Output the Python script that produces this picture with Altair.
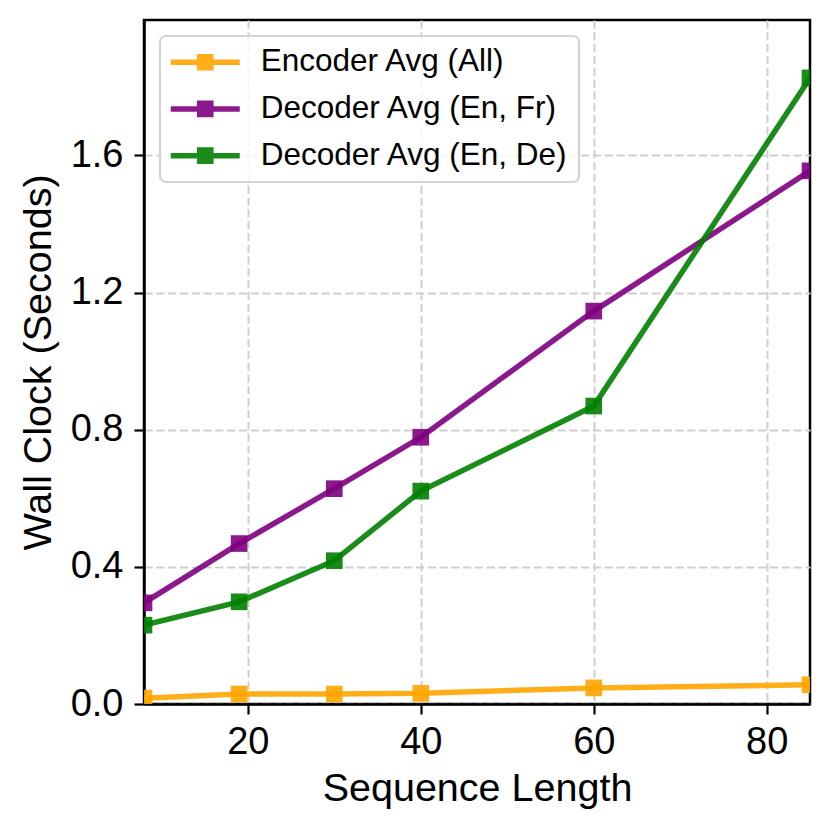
import altair as alt
import pandas as pd

# ---- data ----
seq_len = [8, 19, 30, 40, 60, 85]
encoder_avg = [0.017, 0.029, 0.029, 0.031, 0.047, 0.056]
decoder_en_fr = [0.295, 0.468, 0.628, 0.778, 1.146, 1.555]
decoder_en_de = [0.230, 0.298, 0.418, 0.621, 0.869, 1.826]

series_names = ["Encoder Avg (All)", "Decoder Avg (En, Fr)", "Decoder Avg (En, De)"]
series_colors = ["#FFA500", "#800080", "#008000"]
x_ticks = [20, 40, 60, 80]
y_ticks = [0.0, 0.4, 0.8, 1.2, 1.6]

rows = []
for name, clr, vals in zip(series_names, series_colors,
                           [encoder_avg, decoder_en_fr, decoder_en_de]):
    for x, v in zip(seq_len, vals):
        rows.append({"seq": x, "value": v, "series": name, "clr": clr})
df = pd.DataFrame(rows)

FONT = "Liberation Sans"

# legend symbol: a horizontal line with a square marker (unit = sqrt(size)/2 px)
sym_path = ("M-2.3,-0.183 L-0.556,-0.183 L-0.556,-0.556 L0.556,-0.556 L0.556,-0.183 "
            "L2.3,-0.183 L2.3,0.183 L0.556,0.183 L0.556,0.556 L-0.556,0.556 "
            "L-0.556,0.183 L-2.3,0.183 Z")

x_enc = alt.X(
    "seq:Q",
    scale=alt.Scale(domain=[8, 85], nice=False, zero=False),
    axis=alt.Axis(values=x_ticks, title="Sequence Length", titleY=96,
                  titleBaseline="alphabetic", labelPadding=9),
)
y_enc = alt.Y(
    "value:Q",
    scale=alt.Scale(domain=[0, 1.995], nice=False),
    axis=alt.Axis(values=y_ticks, format=".1f", title="Wall Clock (Seconds)",
                  titleX=-94, titleBaseline="alphabetic", labelPadding=11),
)

base = alt.Chart(df).encode(x=x_enc, y=y_enc)

lines = base.mark_line(strokeWidth=5.5, opacity=0.9, clip=True).encode(
    color=alt.Color("clr:N", scale=None),
    detail="series:N",
)

points = base.mark_point(shape="square", filled=True, size=278, opacity=0.9,
                         strokeWidth=0, clip=True).encode(
    fill=alt.Fill(
        "series:N",
        scale=alt.Scale(domain=series_names, range=series_colors),
        sort=series_names,
        legend=alt.Legend(
            title=None, orient="top-left", offset=16,
            symbolType=sym_path, symbolSize=900, symbolStrokeWidth=0,
            symbolOpacity=0.9, symbolOffset=19,
            labelOffset=39.7, labelFont=FONT, labelFontSize=31.5,
            labelColor="black", labelLimit=600, rowPadding=13.7, padding=10.5,
            strokeColor="#d4d4d4", cornerRadius=6,
            fillColor="rgba(255,255,255,0.8)",
        ),
    )
)

chart = (
    alt.layer(lines, points)
    .properties(
        width=666, height=684,
        autosize=alt.AutoSizeParams(type="none"),
        padding={"left": 136, "top": 12, "right": 13, "bottom": 119},
    )
    .configure(font=FONT)
    .configure_view(stroke="black", strokeWidth=2.5)
    .configure_legend(strokeWidth=2.2)
    .configure_axis(
        labelFont=FONT, labelFontSize=38, labelColor="black",
        titleFont=FONT, titleFontSize=39.5, titleFontWeight="normal", titleColor="black",
        domainColor="black", domainWidth=2.5,
        tickColor="black", tickWidth=2.2, tickSize=10,
        grid=True, gridColor="#cfcfcf", gridWidth=2, gridDash=[8.2, 3.6],
    )
)

chart.save("out.html", embed_options={"renderer": "svg", "actions": False})
